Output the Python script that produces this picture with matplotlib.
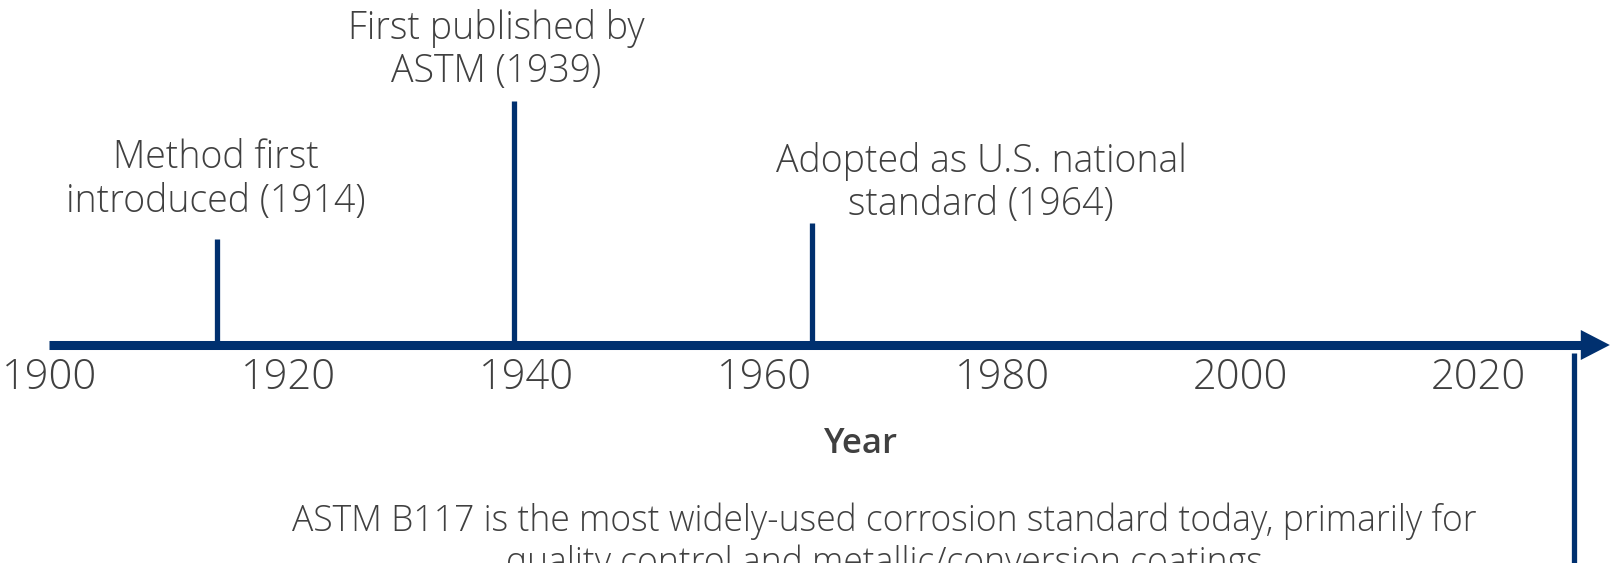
import matplotlib
matplotlib.use("Agg")
import matplotlib.pyplot as plt

# timeline data
tick_years = [1900, 1920, 1940, 1960, 1980, 2000, 2020]
event_years = [1914, 1939, 1964]
event_labels = ["Method first\nintroduced (1914)",
                "First published by\nASTM (1939)",
                "Adopted as U.S. national\nstandard (1964)"]
today_year = 2028
today_label = ("ASTM B117 is the most widely-used corrosion standard today, primarily for\n"
               "quality control and metallic/conversion coatings")
axis_title = "Year"

# layout (y in pixels from the top)
start_year, head_base, tip_year = 1899.9, 2028.6, 2031.0
axis_y = 345
stem_top = [239, 101, 223]
label_x = [1913.9, 1937.5, 1978.2]
label_y = [180, 50, 183]

navy = "#00306f"
grey = "#404040"
plt.rcParams["font.family"] = ["Open Sans", "DejaVu Sans"]

fig = plt.figure(figsize=(16.14, 5.63), dpi=100)
ax = fig.add_axes([0, 0, 1, 1])
ax.set_xlim(1895.80, 2031.35)
ax.set_ylim(563, 0)
ax.axis("off")

# main axis line + arrow head
ax.plot([start_year, head_base], [axis_y, axis_y], color=navy, lw=6.5,
        solid_capstyle="butt", zorder=3)
ax.annotate("", xy=(tip_year, axis_y), xytext=(head_base - 1, axis_y),
            arrowprops=dict(arrowstyle="-|>,head_length=20.9,head_width=10.8",
                            mutation_scale=1, lw=0, color=navy,
                            shrinkA=0, shrinkB=0), zorder=4)

# event stems and labels
for yr, top, lx, ly, lab in zip(event_years, stem_top, label_x, label_y, event_labels):
    ax.plot([yr, yr], [axis_y, top], color=navy, lw=3.8, solid_capstyle="butt", zorder=2)
    ax.text(lx, ly, lab, ha="center", va="center", fontsize=27, color=grey,
            fontweight="light", linespacing=1.17)

# "today" stem going down
ax.plot([today_year, today_year], [353, 563], color=navy, lw=3.8, solid_capstyle="butt")

# tick labels
for yr in tick_years:
    ax.text(yr, 378, str(yr), ha="center", va="center", fontsize=30,
            color=grey, fontweight="light")

ax.text(1968.1, 444, axis_title, ha="center", va="center", fontsize=25,
        color=grey, fontweight="semibold")

ax.text(1970.1, 542, today_label, ha="center", va="center", fontsize=25.6,
        color=grey, fontweight="light", linespacing=1.17)

fig.savefig("out.png", dpi=100)
